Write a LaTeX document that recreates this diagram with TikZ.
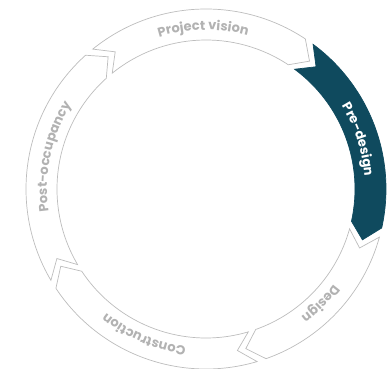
\documentclass[tikz,border=0pt]{standalone}
\usepackage{fontspec}
\newfontfamily\phasefont{Poppins}
\usetikzlibrary{decorations.text}

\definecolor{phaseline}{HTML}{BDBDBD}
\definecolor{phasegray}{HTML}{B2B2B2}
\definecolor{phasedark}{HTML}{0F4A5E}

\tikzset{
  phase edge/.style={draw=phaseline, line width=0.7pt, line join=miter},
  phase label/.style={decorate, decoration={text along path, text align=center}}
}

\begin{document}
\begin{tikzpicture}[x=1pt, y=1pt]
  \useasboundingbox (-206,-180) rectangle (185,189);
  \def\Ri{149}\def\Ro{180}\def\Rm{164.5}\def\Rb{159}\def\tip{5.5}
  % tail / head / label centre / fill / line / text colour / label
  \foreach \ta/\hb/\mid/\fil/\lin/\txt/\lab in {
      129/56.5/91/white/phaseline/phasegray/{Project vision},
      53.5/-12.5/18/phasedark/phasedark/white/{Pre-design},
      -15.5/-70.5/-45/white/phaseline/phasegray/{Design},
      -73.5/-146.5/-113/white/phaseline/phasegray/{Construction},
      210.5/132/168/white/phaseline/phasegray/{Post-occupancy}} {
    \draw[phase edge, draw=\lin, fill=\fil]
      (\ta:\Ro) arc[start angle=\ta, end angle=\hb, radius=\Ro]
      -- (\hb-\tip:\Rm) -- (\hb:\Ri)
      arc[start angle=\hb, end angle=\ta, radius=\Ri]
      -- (\ta-\tip:\Rm) -- cycle;
    {\phasefont\bfseries\fontsize{13}{15}\selectfont
    \path[phase label, decoration={text/.expanded=\lab, text color=\txt}]
      (\mid+35:\Rb) arc[start angle=\mid+35, end angle=\mid-35, radius=\Rb];}
  }
\end{tikzpicture}
\end{document}
